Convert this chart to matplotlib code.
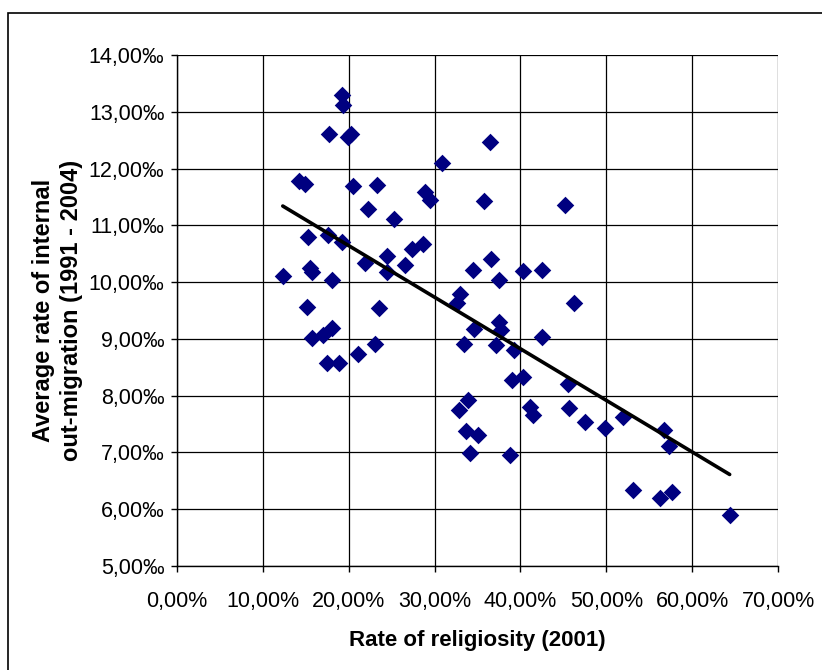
import numpy as np
import matplotlib.pyplot as plt
from matplotlib.ticker import FuncFormatter
from matplotlib.patches import Rectangle

plt.rcParams['font.family'] = ['Liberation Sans', 'DejaVu Sans']

# religiosity rate (%) and average out-migration rate (per mille)
religiosity = [12.32, 14.26, 14.92, 15.19, 15.23, 15.50, 15.77, 15.70, 17.06, 17.44,
               17.56, 17.68, 18.03, 18.10, 18.88, 19.19, 19.23, 19.39, 19.90, 20.30,
               20.47, 21.06, 21.87, 22.30, 23.08, 23.27, 23.58, 24.44, 24.44, 25.33,
               26.57, 27.35, 28.63, 28.90, 29.50, 30.85, 32.60, 32.79, 32.98, 33.48,
               33.68, 33.88, 34.07, 34.46, 34.54, 35.00, 35.70, 36.48, 36.56, 37.10,
               37.45, 37.49, 37.76, 38.81, 39.04, 39.20, 40.29, 40.29, 41.14, 41.45,
               42.50, 42.54, 45.14, 45.57, 45.60, 46.23, 47.55, 49.80, 52.00, 53.10,
               56.30, 56.76, 57.26, 57.65, 64.37]
migration = [10.11, 11.78, 11.72, 9.56, 10.80, 10.24, 10.18, 9.01, 9.07, 8.57,
             10.83, 12.60, 9.19, 10.04, 8.57, 10.71, 13.30, 13.12, 12.55, 12.61,
             11.70, 8.74, 10.34, 11.29, 8.91, 11.71, 9.54, 10.46, 10.17, 11.12,
             10.30, 10.58, 10.67, 11.59, 11.45, 12.09, 9.64, 7.74, 9.79, 8.91,
             7.38, 7.93, 6.99, 10.21, 9.17, 7.30, 11.42, 12.47, 10.40, 8.89,
             10.04, 9.30, 9.15, 6.95, 8.27, 8.81, 10.20, 8.33, 7.80, 7.66,
             10.22, 9.04, 11.36, 8.21, 7.79, 9.64, 7.53, 7.43, 7.63, 6.34,
             6.19, 7.39, 7.12, 6.31, 5.90]

x = np.array(religiosity)
y = np.array(migration)

fig = plt.figure(figsize=(8.22, 6.7), dpi=100)
ax = fig.add_axes([177/822, 1-566/670, (778-177)/822, (566-55)/670])

# outer chart frame
fig.patches.append(Rectangle((8/822, -0.05), 1.2, 1-13/670+0.05, transform=fig.transFigure,
                             fill=False, edgecolor='black', lw=1.2))

ax.scatter(x, y, marker='D', s=80, color='#000080', zorder=3, linewidths=0)

# linear trend line
k, b = np.polyfit(x, y, 1)
xs = np.array([x.min(), x.max()])
ax.plot(xs, k*xs + b, color='black', lw=2.6, zorder=4, solid_capstyle='round')

ax.set_xlim(0, 70)
ax.set_ylim(5, 14)
ax.set_xticks(np.arange(0, 71, 10))
ax.set_yticks(np.arange(5, 15, 1))
ax.xaxis.set_major_formatter(FuncFormatter(lambda v, p: f'{v:.2f}%'.replace('.', ',')))
ax.yaxis.set_major_formatter(FuncFormatter(lambda v, p: f'{v:.2f}‰'.replace('.', ',')))
ax.grid(True, color='black', lw=0.9)
ax.set_axisbelow(True)
for s in ax.spines.values():
    s.set_color('black')
    s.set_linewidth(1)
ax.spines['top'].set_visible(False)
ax.spines['right'].set_visible(False)
ax.tick_params(direction='out', length=4, width=1, labelsize=15.5)
ax.tick_params(axis='y', pad=5)
ax.tick_params(axis='x', pad=14)

ax.set_xlabel('Rate of religiosity (2001)', fontsize=16, fontweight='bold', labelpad=13)
ax.set_ylabel('Average rate of internal\nout-migration (1991 - 2004)', fontsize=17,
              fontweight='bold', labelpad=4, linespacing=1.3)

fig.savefig('out.png', dpi=100)
